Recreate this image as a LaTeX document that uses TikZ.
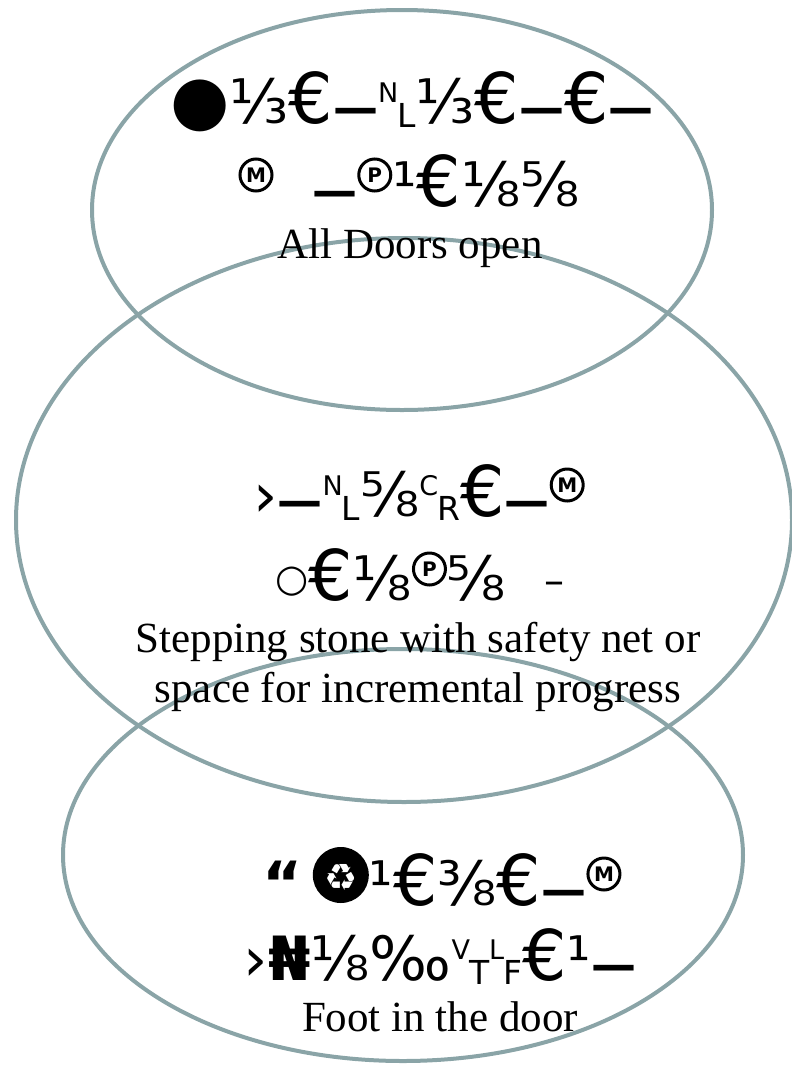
\documentclass[tikz,border=0pt]{standalone}
\usepackage{fontspec}
\setmainfont{Liberation Serif}
\newfontfamily\symfont{DejaVu Sans}
\definecolor{ring}{HTML}{8AA4A7}
% glyph helpers
\newcommand\Eur{{\fontsize{70}{70}\selectfont €}}
\newcommand\Dsh{{\fontsize{45}{45}\selectfont\bfseries —}}
\newcommand\ctl[2]{\raisebox{21pt}{\fontsize{27}{27}\selectfont #1}\kern-1pt\raisebox{-4pt}{\fontsize{33}{33}\selectfont #2}}
\newcommand\circlet[1]{\ooalign{\tikz[baseline=0pt]\draw[line width=3pt] (0pt,31pt) circle[radius=16pt];\cr\hidewidth\raisebox{23.5pt}{\fontsize{20}{20}\selectfont\bfseries #1}\hidewidth\cr}}
\newcommand\recyc{\ooalign{\tikz[baseline=0pt]\fill (0pt,30pt) circle[radius=28pt];\cr\hidewidth\raisebox{15pt}{\color{white}\fontsize{37}{37}\selectfont ♻}\hidewidth\cr}}
\newcommand\ring{\raisebox{9pt}{\fontsize{38}{38}\selectfont ○}}
\tikzset{
  ringline/.style={draw=ring, line width=4pt},
  symline/.style={anchor=base, inner sep=0pt, font=\symfont\fontsize{61}{70}\selectfont},
  capline/.style={anchor=base, inner sep=0pt, font=\fontsize{43}{50}\selectfont},
}
\begin{document}
\begin{tikzpicture}[x=1pt,y=-1pt]
\useasboundingbox (0,0) rectangle (792,1066);
\draw[ringline] (402,210) ellipse [x radius=310, y radius=200];
\draw[ringline] (404,520) ellipse [x radius=388, y radius=282];
\draw[ringline] (403,855) ellipse [x radius=340, y radius=206];

\node[symline] (t1) at (412,123) {{\fontsize{68}{68}\selectfont ●}⅓\Eur\Dsh\ctl{N}{L}⅓\Eur\Dsh\Eur\Dsh};
\node[symline] (t2) at (409,206) {\circlet{M}\ \ \Dsh\circlet{P}¹\Eur⅛⅝};
\node[capline] (t3) at (410,258) {All Doors open};

\node[symline] (m1) at (419,516) {›\Dsh\ctl{N}{L}⅝\ctl{C}{R}\Eur\Dsh\circlet{M}};
\node[symline] (m2) at (420,600) {\ring\Eur⅛\circlet{P}⅝\ \ \raisebox{6pt}{\fontsize{40}{40}\selectfont –}};
\node[capline] (m3) at (418,652) {Stepping stone with safety net or};
\node[capline] (m4) at (418,702) {space for incremental progress};

\node[symline] (b1) at (442,905) {{\bfseries“}\,\recyc¹\Eur⅜\Eur\Dsh\circlet{M}};
\node[symline] (b2) at (440,980) {›{\bfseries ₦}⅛‰\ctl{V}{T}\ctl{L}{F}\Eur¹\Dsh};
\node[capline] (b3) at (440,1031) {Foot in the door};
\end{tikzpicture}
\end{document}
